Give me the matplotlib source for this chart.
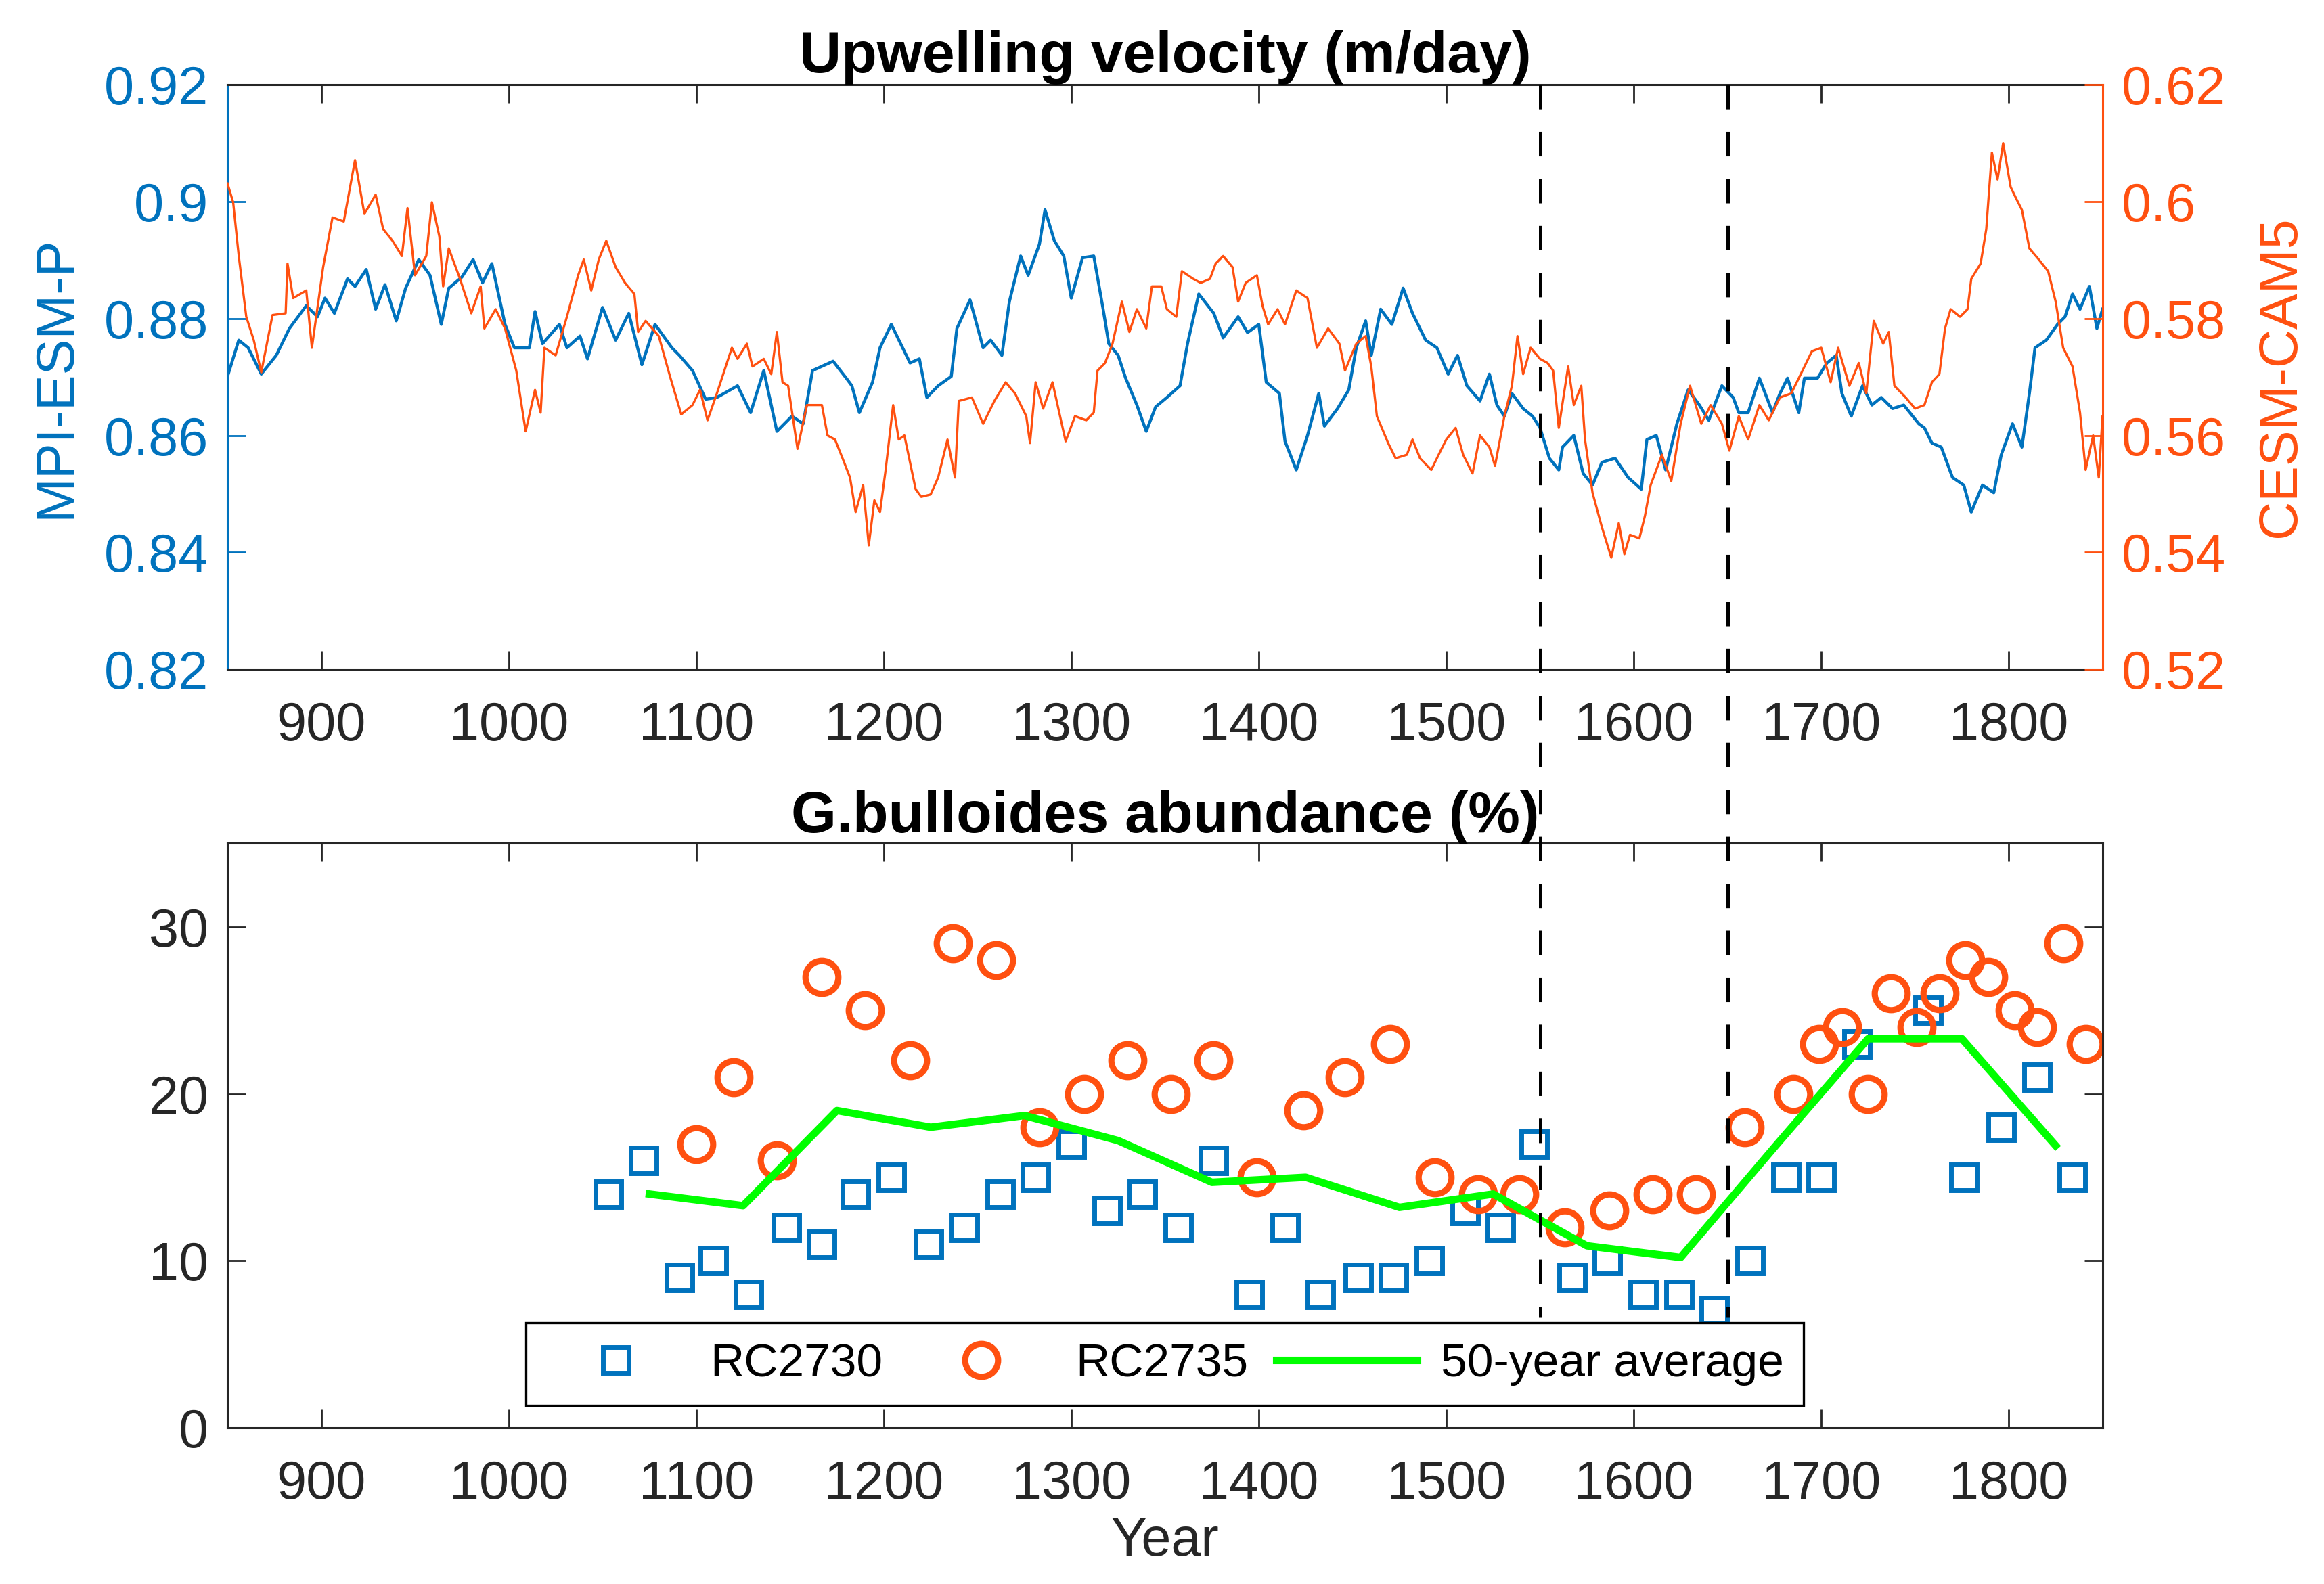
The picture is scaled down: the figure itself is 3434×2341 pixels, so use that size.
import matplotlib
matplotlib.use("Agg")
import matplotlib.pyplot as plt
from matplotlib.lines import Line2D
from matplotlib.ticker import FuncFormatter

plt.rcParams['font.family'] = ['Liberation Sans', 'DejaVu Sans']
plt.rcParams['lines.scale_dashes'] = False

# MPI-ESM-P upwelling velocity (m/day)
mpi_year = [850, 856, 861, 868, 876, 883, 892, 898, 902, 907, 914, 918, 924, 929, 934, 940, 945, 952, 958, 964,
            968, 975, 981, 986, 991, 998, 1003, 1011, 1014, 1018, 1027, 1031, 1038, 1042, 1050, 1057, 1064, 1071,
            1078, 1087, 1091, 1098, 1105, 1111, 1122, 1129, 1136, 1143, 1151, 1157, 1162, 1173, 1180, 1183, 1187,
            1194, 1198, 1204, 1209, 1214, 1219, 1223, 1229, 1236, 1239, 1246, 1253, 1257, 1263, 1267, 1273, 1277,
            1283, 1286, 1291, 1296, 1300, 1306, 1312, 1317, 1320, 1325, 1329, 1335, 1340, 1345, 1351, 1358, 1362,
            1368, 1376, 1381, 1389, 1394, 1400, 1404, 1411, 1414, 1420, 1426, 1432, 1435, 1442, 1448, 1452, 1457,
            1460, 1465, 1471, 1477, 1482, 1489, 1495, 1501, 1506, 1511, 1518, 1523, 1527, 1531, 1535, 1541, 1546,
            1550, 1555, 1560, 1562, 1568, 1573, 1578, 1583, 1590, 1597, 1604, 1607, 1612, 1617, 1623, 1629, 1635,
            1640, 1647, 1653, 1656, 1661, 1667, 1674, 1678, 1682, 1688, 1691, 1698, 1703, 1708, 1711, 1716, 1722,
            1727, 1732, 1738, 1744, 1752, 1755, 1759, 1764, 1770, 1776, 1780, 1786, 1792, 1796, 1802, 1807, 1811,
            1814, 1820, 1826, 1830, 1834, 1838, 1843, 1847, 1850]
mpi_val = [0.8701, 0.8763, 0.8750, 0.8705, 0.8737, 0.8783, 0.8822, 0.8803, 0.8835, 0.8809, 0.8868, 0.8855, 0.8884,
           0.8816, 0.8858, 0.8796, 0.8852, 0.8901, 0.8874, 0.8790, 0.8852, 0.8871, 0.8901, 0.8861, 0.8894, 0.8790,
           0.8750, 0.8750, 0.8812, 0.8757, 0.8790, 0.8750, 0.8770, 0.8731, 0.8819, 0.8763, 0.8809, 0.8721, 0.8790,
           0.8750, 0.8737, 0.8711, 0.8662, 0.8665, 0.8685, 0.8639, 0.8711, 0.8607, 0.8633, 0.8620, 0.8711, 0.8727,
           0.8698, 0.8685, 0.8639, 0.8691, 0.8750, 0.8790, 0.8757, 0.8724, 0.8731, 0.8665, 0.8685, 0.8701, 0.8783,
           0.8832, 0.8750, 0.8763, 0.8737, 0.8829, 0.8907, 0.8874, 0.8927, 0.8986, 0.8933, 0.8907, 0.8835, 0.8904,
           0.8907, 0.8816, 0.8757, 0.8737, 0.8698, 0.8652, 0.8607, 0.8649, 0.8665, 0.8685, 0.8757, 0.8842, 0.8809,
           0.8767, 0.8803, 0.8776, 0.8790, 0.8691, 0.8672, 0.8590, 0.8541, 0.8600, 0.8672, 0.8616, 0.8646, 0.8678,
           0.8750, 0.8796, 0.8737, 0.8816, 0.8790, 0.8852, 0.8809, 0.8763, 0.8750, 0.8705, 0.8737, 0.8685, 0.8659,
           0.8705, 0.8652, 0.8633, 0.8672, 0.8646, 0.8633, 0.8613, 0.8561, 0.8541, 0.8580, 0.8600, 0.8535, 0.8515,
           0.8554, 0.8561, 0.8528, 0.8508, 0.8593, 0.8600, 0.8541, 0.8620, 0.8678, 0.8652, 0.8626, 0.8685, 0.8665,
           0.8639, 0.8639, 0.8698, 0.8639, 0.8672, 0.8698, 0.8639, 0.8698, 0.8698, 0.8724, 0.8737, 0.8672, 0.8633,
           0.8685, 0.8652, 0.8665, 0.8646, 0.8652, 0.8620, 0.8613, 0.8587, 0.8580, 0.8528, 0.8515, 0.8469, 0.8515,
           0.8502, 0.8567, 0.8620, 0.8580, 0.8672, 0.8750, 0.8763, 0.8790, 0.8803, 0.8842, 0.8816, 0.8855, 0.8783,
           0.8816]

# CESM-CAM5 upwelling velocity (m/day)
cesm_year = [850, 853, 856, 860, 864, 868, 874, 881, 882, 885, 892, 895, 901, 906, 912, 918, 923, 929, 933, 938,
             943, 946, 950, 956, 959, 963, 965, 968, 974, 980, 985, 987, 993, 998, 1004, 1009, 1014, 1017, 1019,
             1025, 1031, 1037, 1040, 1044, 1048, 1052, 1057, 1062, 1067, 1069, 1073, 1080, 1086, 1092, 1098, 1102,
             1106, 1111, 1119, 1122, 1127, 1130, 1136, 1140, 1143, 1146, 1149, 1154, 1159, 1167, 1170, 1174, 1178,
             1182, 1185, 1189, 1192, 1195, 1198, 1201, 1205, 1208, 1211, 1217, 1220, 1225, 1229, 1234, 1238, 1240,
             1247, 1253, 1259, 1265, 1270, 1276, 1278, 1281, 1285, 1290, 1294, 1297, 1302, 1308, 1312, 1314, 1318,
             1322, 1327, 1331, 1335, 1340, 1343, 1348, 1351, 1356, 1359, 1365, 1369, 1374, 1377, 1381, 1386, 1389,
             1393, 1399, 1402, 1405, 1410, 1414, 1420, 1426, 1431, 1437, 1443, 1446, 1452, 1457, 1460, 1463, 1469,
             1473, 1479, 1482, 1486, 1492, 1497, 1500, 1505, 1509, 1514, 1518, 1523, 1526, 1531, 1535, 1538, 1541,
             1545, 1550, 1554, 1557, 1560, 1565, 1568, 1572, 1574, 1578, 1583, 1588, 1592, 1595, 1598, 1603, 1606,
             1609, 1615, 1620, 1625, 1630, 1636, 1641, 1647, 1651, 1656, 1661, 1667, 1672, 1678, 1684, 1690, 1695,
             1700, 1705, 1709, 1715, 1720, 1724, 1728, 1733, 1736, 1739, 1745, 1750, 1755, 1759, 1763, 1766, 1769,
             1774, 1778, 1780, 1785, 1788, 1791, 1794, 1797, 1801, 1804, 1807, 1811, 1816, 1821, 1825, 1829, 1834,
             1838, 1841, 1845, 1848, 1850]
cesm_val = [0.6031, 0.5999, 0.5907, 0.5803, 0.5763, 0.5708, 0.5806, 0.5809, 0.5894, 0.5835, 0.5848, 0.5750, 0.5888,
            0.5973, 0.5966, 0.6071, 0.5979, 0.6012, 0.5953, 0.5933, 0.5907, 0.5989, 0.5874, 0.5907, 0.5999, 0.5940,
            0.5855, 0.5920, 0.5868, 0.5809, 0.5855, 0.5783, 0.5816, 0.5783, 0.5711, 0.5607, 0.5678, 0.5639, 0.5750,
            0.5737, 0.5803, 0.5874, 0.5901, 0.5848, 0.5901, 0.5933, 0.5888, 0.5861, 0.5842, 0.5777, 0.5796, 0.5770,
            0.5701, 0.5636, 0.5652, 0.5678, 0.5626, 0.5672, 0.5750, 0.5731, 0.5757, 0.5718, 0.5731, 0.5705, 0.5777,
            0.5691, 0.5685, 0.5577, 0.5652, 0.5652, 0.5600, 0.5593, 0.5561, 0.5528, 0.5469, 0.5515, 0.5412, 0.5489,
            0.5469, 0.5541, 0.5652, 0.5593, 0.5600, 0.5508, 0.5495, 0.5499, 0.5528, 0.5593, 0.5528, 0.5659, 0.5665,
            0.5620, 0.5659, 0.5691, 0.5672, 0.5633, 0.5587, 0.5691, 0.5646, 0.5691, 0.5633, 0.5590, 0.5633, 0.5626,
            0.5639, 0.5711, 0.5724, 0.5757, 0.5829, 0.5777, 0.5816, 0.5783, 0.5855, 0.5855, 0.5816, 0.5803, 0.5881,
            0.5868, 0.5861, 0.5868, 0.5894, 0.5907, 0.5888, 0.5829, 0.5861, 0.5874, 0.5822, 0.5790, 0.5816, 0.5790,
            0.5848, 0.5835, 0.5750, 0.5783, 0.5757, 0.5711, 0.5757, 0.5770, 0.5718, 0.5633, 0.5587, 0.5561, 0.5567,
            0.5593, 0.5561, 0.5541, 0.5574, 0.5593, 0.5613, 0.5567, 0.5535, 0.5600, 0.5580, 0.5548, 0.5633, 0.5685,
            0.5770, 0.5705, 0.5750, 0.5731, 0.5724, 0.5711, 0.5613, 0.5718, 0.5652, 0.5685, 0.5593, 0.5502, 0.5443,
            0.5391, 0.5450, 0.5397, 0.5430, 0.5424, 0.5463, 0.5515, 0.5567, 0.5522, 0.5620, 0.5685, 0.5620, 0.5652,
            0.5620, 0.5574, 0.5633, 0.5593, 0.5652, 0.5626, 0.5665, 0.5672, 0.5711, 0.5744, 0.5750, 0.5691, 0.5750,
            0.5685, 0.5724, 0.5672, 0.5796, 0.5757, 0.5777, 0.5685, 0.5665, 0.5646, 0.5652, 0.5691, 0.5705, 0.5783,
            0.5816, 0.5803, 0.5816, 0.5868, 0.5894, 0.5953, 0.6084, 0.6038, 0.6100, 0.6025, 0.6005, 0.5986, 0.5920,
            0.5901, 0.5881, 0.5829, 0.5750, 0.5718, 0.5639, 0.5541, 0.5600, 0.5528, 0.5633]

# G.bulloides abundance (%)
rc2730_year = [1053, 1072, 1091, 1109, 1128, 1148, 1167, 1185, 1204, 1224, 1243, 1262, 1281, 1300, 1319, 1338,
               1357, 1376, 1395, 1414, 1433, 1453, 1472, 1491, 1510, 1529, 1547, 1567, 1586, 1605, 1624, 1643,
               1662, 1681, 1700, 1719, 1757, 1776, 1796, 1815, 1834]
rc2730_val = [14, 16, 9, 10, 8, 12, 11, 14, 15, 11, 12, 14, 15, 17, 13, 14, 12, 16, 8, 12, 8, 9, 9, 10, 13, 12,
              17, 9, 10, 8, 8, 7, 10, 15, 15, 23, 25, 15, 18, 21, 15]
rc2735_year = [1100, 1120, 1143, 1167, 1190, 1214, 1237, 1260, 1283, 1307, 1330, 1353, 1376, 1399, 1424, 1446,
               1470, 1494, 1517, 1539, 1563, 1587, 1610, 1633, 1659, 1685, 1699, 1711, 1725, 1737, 1751, 1763,
               1777, 1789, 1803, 1815, 1829, 1841]
rc2735_val = [17, 21, 16, 27, 25, 22, 29, 28, 18, 20, 22, 20, 22, 15, 19, 21, 23, 15, 14, 14, 12, 13, 14, 14,
              18, 20, 23, 24, 20, 26, 24, 26, 28, 27, 25, 24, 29, 23]
avg_year = [1075, 1125, 1175, 1225, 1275, 1325, 1375, 1425, 1475, 1525, 1575, 1625, 1675, 1725, 1775, 1825]
avg_val = [14.0, 13.3, 19.0, 18.0, 18.7, 17.2, 14.7, 15.0, 13.2, 14.0, 10.9, 10.2, 16.8, 23.3, 23.3, 16.9]

event_years = [1550, 1650]

blue = '#0072BD'
orange = '#FF5010'
dark = '#262626'
fs = 28.5
title_fs = 31
tick_len = 9.7

fmt = FuncFormatter(lambda v, p: '%g' % v)

fig = plt.figure(figsize=(17.17, 11.705), dpi=200)
ax1 = fig.add_axes([0.0979, 0.5775, 0.8068, 0.369])
ax3 = fig.add_axes([0.0979, 0.0986, 0.8068, 0.369])

# top panel: two models on twin axes
ax1.plot(mpi_year, mpi_val, color=blue, lw=1.6)
ax1.set_xlim(850, 1850)
ax1.set_ylim(0.82, 0.92)
ax1.set_yticks([0.82, 0.84, 0.86, 0.88, 0.9, 0.92])
ax1.yaxis.set_major_formatter(fmt)
ax1.set_xticks(range(900, 1900, 100))
ax1.tick_params(axis='x', direction='in', top=True, length=tick_len, width=1, color=dark,
                labelcolor=dark, labelsize=fs, pad=17)
ax1.tick_params(axis='y', direction='in', length=tick_len, width=1, colors=blue, labelsize=fs, pad=10)
ax1.set_ylabel('MPI-ESM-P', color=blue, fontsize=fs, labelpad=12)
ax1.set_title('Upwelling velocity (m/day)', fontsize=title_fs, fontweight='bold', pad=6)
for s in ['top', 'bottom']:
    ax1.spines[s].set_color(dark)
    ax1.spines[s].set_linewidth(1.1)
ax1.spines['left'].set_color(blue)
ax1.spines['left'].set_linewidth(1.1)
ax1.spines['right'].set_visible(False)

ax2 = ax1.twinx()
ax2.plot(cesm_year, cesm_val, color=orange, lw=1.2)
ax2.set_ylim(0.52, 0.62)
ax2.set_yticks([0.52, 0.54, 0.56, 0.58, 0.6, 0.62])
ax2.yaxis.set_major_formatter(fmt)
ax2.tick_params(axis='y', direction='in', length=tick_len, width=1, colors=orange, labelsize=fs, pad=10)
ax2.set_ylabel('CESM-CAM5', color=orange, fontsize=fs, labelpad=16)
for s in ['top', 'bottom', 'left']:
    ax2.spines[s].set_visible(False)
ax2.spines['right'].set_color(orange)
ax2.spines['right'].set_linewidth(1.1)

# bottom panel: foraminifera abundance
ax3.plot(rc2730_year, rc2730_val, ls='none', marker='s', ms=13.5, mfc='none', mec=blue, mew=2.5,
         label='RC2730')
ax3.plot(rc2735_year, rc2735_val, ls='none', marker='o', ms=17.5, mfc='none', mec=orange, mew=3.3,
         label='RC2735')
ax3.plot(avg_year, avg_val, color='#00FF00', lw=4, label='50-year average')
ax3.set_xlim(850, 1850)
ax3.set_ylim(0, 35)
ax3.set_yticks([0, 10, 20, 30])
ax3.set_xticks(range(900, 1900, 100))
ax3.tick_params(axis='x', direction='in', top=True, length=tick_len, width=1, color=dark,
                labelcolor=dark, labelsize=fs, pad=17)
ax3.tick_params(axis='y', direction='in', right=True, length=tick_len, width=1, color=dark,
                labelcolor=dark, labelsize=fs, pad=10)
for s in ax3.spines.values():
    s.set_color(dark)
    s.set_linewidth(1.1)
ax3.set_xlabel('Year', fontsize=fs, color=dark, labelpad=3)
ax3.set_title('G.bulloides abundance (%)', fontsize=title_fs, fontweight='bold', pad=6)

leg = ax3.legend(ncol=3, loc='lower left', bbox_to_anchor=(0.159, 0.038), borderaxespad=0, fontsize=25,
                 fancybox=False, edgecolor='black', framealpha=1, handlelength=3, handletextpad=0.5,
                 columnspacing=0.6, borderpad=0.42, numpoints=1)
leg.get_frame().set_linewidth(1.2)

# dashed event lines running across both panels
inv = fig.transFigure.inverted()
for yr in event_years:
    x0, y0 = inv.transform(ax1.transData.transform((yr, 0.92)))
    x1, y1 = inv.transform(ax3.transData.transform((yr, 6.6)))
    fig.add_artist(Line2D([x0, x1], [y0, y1], transform=fig.transFigure, color='black', lw=1.8,
                          dashes=(13, 12)))

fig.savefig('out.png', dpi=200)
